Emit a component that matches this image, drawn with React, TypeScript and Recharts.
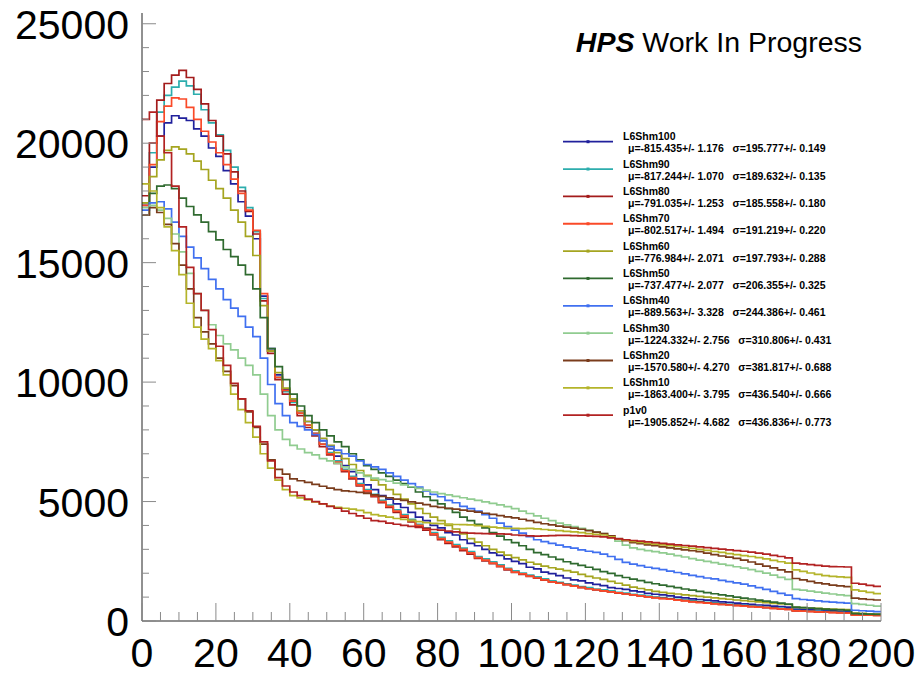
import React from 'react';
import { LineChart, Line, XAxis, YAxis } from 'recharts';

// ---------- data (bin low edges, width 2) ----------
const binWidth = 2;
const binLow: number[] = Array.from({ length: 100 }, (_, i) => i * binWidth);

const L6Shm100 = [
  17400, 19000, 20300, 20850, 21150, 21050, 20950, 20600, 20300, 19800,
  19450, 18850, 18300, 17550, 16950, 16000, 13600, 11400, 10300, 9700,
  9250, 8800, 8350, 8000, 7550, 7200, 6900, 6500, 6250, 5950,
  5700, 5500, 5250, 5100, 4900, 4750, 4550, 4350, 4200, 4000,
  3900, 3700, 3600, 3400, 3250, 3150, 3000, 2850, 2750, 2600,
  2500, 2400, 2250, 2180, 2050, 1980, 1900, 1800, 1720, 1680,
  1600, 1530, 1480, 1400, 1360, 1320, 1260, 1220, 1160, 1120,
  1090, 1050, 1000, 970, 930, 900, 870, 840, 800, 780,
  750, 720, 700, 670, 650, 620, 600, 580, 500, 490,
  470, 460, 440, 430, 410, 400, 310, 300, 290, 280,
];
const L6Shm90 = [
  17500, 19600, 21300, 22000, 22350, 22600, 22400, 22050, 21400, 20850,
  20350, 19700, 19000, 18150, 17300, 16300, 13500, 11300, 10200, 9600,
  9150, 8700, 8200, 7850, 7400, 7050, 6700, 6350, 6050, 5750,
  5500, 5300, 5050, 4850, 4650, 4450, 4250, 4050, 3900, 3700,
  3500, 3350, 3200, 3050, 2900, 2700, 2600, 2480, 2350, 2200,
  2100, 2000, 1920, 1850, 1760, 1680, 1620, 1560, 1500, 1440,
  1400, 1340, 1300, 1260, 1200, 1170, 1120, 1080, 1040, 1000,
  980, 940, 910, 870, 840, 810, 780, 760, 720, 700,
  670, 650, 620, 600, 570, 550, 530, 510, 440, 430,
  410, 400, 390, 370, 360, 350, 270, 260, 250, 240,
];
const L6Shm80 = [
  17800, 20000, 21800, 22500, 22850, 23050, 22750, 22250, 21650, 20950,
  20300, 19550, 18800, 18000, 17150, 16200, 13400, 11200, 10100, 9500,
  9050, 8600, 8100, 7750, 7300, 6950, 6600, 6250, 5950, 5650,
  5400, 5200, 4950, 4750, 4550, 4350, 4150, 3950, 3800, 3600,
  3400, 3250, 3100, 2950, 2800, 2620, 2520, 2400, 2280, 2140,
  2030, 1950, 1870, 1790, 1710, 1640, 1580, 1520, 1460, 1400,
  1350, 1300, 1260, 1220, 1170, 1130, 1090, 1050, 1010, 980,
  950, 920, 880, 850, 810, 790, 760, 730, 700, 680,
  650, 630, 600, 580, 560, 530, 510, 490, 420, 410,
  400, 380, 370, 360, 350, 340, 260, 250, 240, 230,
];
const L6Shm70 = [
  17400, 19100, 20900, 21550, 21900, 21850, 21500, 21000, 20500, 20050,
  19600, 19100, 18500, 17900, 17200, 16350, 13700, 11300, 10200, 9650,
  9200, 8700, 8200, 7850, 7400, 7000, 6650, 6300, 6000, 5700,
  5450, 5250, 5000, 4800, 4600, 4400, 4200, 4000, 3850, 3650,
  3450, 3300, 3150, 3000, 2850, 2650, 2550, 2420, 2300, 2170,
  2050, 1970, 1880, 1800, 1720, 1640, 1580, 1520, 1460, 1410,
  1350, 1310, 1260, 1220, 1180, 1130, 1090, 1050, 1010, 970,
  940, 910, 870, 840, 800, 770, 750, 720, 690, 670,
  640, 620, 600, 580, 560, 530, 510, 490, 420, 410,
  390, 380, 370, 350, 340, 330, 250, 240, 240, 230,
];
const L6Shm60 = [
  17500, 18600, 19300, 19700, 19850, 19750, 19550, 19250, 18900, 18450,
  18100, 17700, 17200, 16700, 16100, 15300, 13200, 11300, 10400, 9750,
  9300, 8800, 8350, 8000, 7650, 7350, 7050, 6800, 6550, 6300,
  6100, 5900, 5700, 5500, 5300, 5100, 4900, 4700, 4500, 4350,
  4200, 4000, 3850, 3650, 3450, 3300, 3150, 3000, 2880, 2760,
  2650, 2560, 2460, 2380, 2300, 2230, 2170, 2110, 2050, 1950,
  1870, 1800, 1740, 1660, 1580, 1500, 1420, 1360, 1300, 1240,
  1200, 1160, 1130, 1090, 1060, 1030, 1000, 970, 940, 910,
  880, 850, 820, 800, 770, 740, 720, 690, 570, 560,
  540, 530, 510, 500, 490, 480, 330, 320, 300, 290,
];
const L6Shm50 = [
  17000, 17900, 18200, 18250, 18100, 17700, 17350, 17000, 16700, 16300,
  15950, 15550, 15250, 14900, 14500, 13900, 12700, 11400, 10650, 10100,
  9500, 9000, 8600, 8300, 8000, 7750, 7500, 7300, 7000, 6750,
  6500, 6350, 6200, 6050, 5900, 5750, 5600, 5400, 5200, 5050,
  4900, 4700, 4550, 4350, 4200, 4050, 3900, 3700, 3550, 3400,
  3280, 3150, 3000, 2860, 2780, 2680, 2580, 2480, 2400, 2330,
  2250, 2160, 2070, 1990, 1900, 1820, 1750, 1690, 1620, 1560,
  1500, 1450, 1400, 1340, 1290, 1240, 1190, 1140, 1090, 1050,
  1000, 960, 920, 870, 830, 790, 750, 710, 580, 560,
  540, 520, 500, 480, 470, 450, 310, 300, 290, 280,
];
const L6Shm40 = [
  17200, 17500, 17550, 17250, 16700, 16100, 15650, 15200, 14750, 14300,
  13900, 13450, 13100, 12750, 12300, 11900, 11000, 9900, 9100, 8600,
  8300, 8150, 8000, 7800, 7550, 7300, 7150, 7000, 6900, 6700,
  6550, 6450, 6350, 6200, 6050, 5900, 5750, 5600, 5450, 5300,
  5200, 5050, 4950, 4800, 4700, 4600, 4450, 4300, 4100, 3950,
  3800, 3680, 3530, 3400, 3320, 3250, 3180, 3100, 3050, 2980,
  2920, 2870, 2800, 2700, 2580, 2450, 2380, 2320, 2250, 2200,
  2150, 2090, 2030, 1970, 1910, 1860, 1800, 1760, 1700, 1650,
  1600, 1540, 1470, 1400, 1320, 1240, 1160, 1080, 940, 900,
  870, 840, 810, 790, 770, 750, 450, 430, 410, 390,
];
const L6Shm30 = [
  17300, 17400, 17200, 16850, 16200, 15450, 14550, 13700, 13000, 12400,
  11950, 11600, 11350, 11000, 10700, 10300, 9500, 8600, 8000, 7600,
  7350, 7200, 7050, 6950, 6800, 6700, 6600, 6450, 6350, 6200,
  6050, 5980, 5920, 5850, 5770, 5700, 5620, 5550, 5480, 5400,
  5330, 5280, 5220, 5160, 5100, 5050, 4990, 4920, 4860, 4790,
  4700, 4600, 4500, 4400, 4300, 4200, 4100, 4020, 3950, 3880,
  3800, 3730, 3660, 3500, 3340, 3180, 3060, 3000, 2950, 2900,
  2850, 2800, 2740, 2680, 2610, 2550, 2500, 2440, 2380, 2330,
  2270, 2210, 2150, 2080, 2000, 1920, 1830, 1740, 1320, 1290,
  1250, 1210, 1170, 1130, 1090, 1060, 730, 700, 660, 620,
];
const L6Shm20 = [
  17000, 17300, 17100, 16600, 15800, 14900, 13900, 12700, 12100, 11600,
  11000, 10450, 9850, 9300, 8750, 8100, 7400, 6750, 6350, 6150,
  5950, 5870, 5800, 5720, 5640, 5560, 5500, 5450, 5420, 5380,
  5340, 5280, 5220, 5160, 5100, 5050, 4990, 4930, 4870, 4800,
  4760, 4720, 4680, 4640, 4600, 4560, 4510, 4460, 4410, 4360,
  4320, 4260, 4200, 4130, 4070, 4020, 3970, 3930, 3890, 3840,
  3780, 3720, 3660, 3560, 3450, 3360, 3280, 3240, 3190, 3150,
  3100, 3060, 3020, 2980, 2940, 2900, 2840, 2780, 2720, 2670,
  2620, 2550, 2470, 2380, 2300, 2220, 2140, 2060, 1780, 1720,
  1660, 1600, 1550, 1500, 1470, 1440, 960, 930, 900, 880,
];
const L6Shm10 = [
  18300, 18000, 17300, 16500, 15500, 14500, 13300, 12300, 11800, 11400,
  10900, 10300, 9500, 8850, 8300, 7700, 7000, 6400, 5900, 5500,
  5250, 5150, 5070, 4990, 4900, 4810, 4760, 4720, 4680, 4630,
  4540, 4450, 4400, 4350, 4290, 4250, 4200, 4160, 4120, 4090,
  4080, 4060, 4040, 4030, 4020, 3990, 3960, 3930, 3900, 3880,
  3880, 3870, 3880, 3860, 3830, 3800, 3780, 3750, 3730, 3700,
  3660, 3630, 3600, 3520, 3440, 3380, 3330, 3290, 3250, 3220,
  3190, 3150, 3120, 3080, 3040, 3000, 2960, 2910, 2870, 2820,
  2780, 2740, 2700, 2650, 2600, 2540, 2480, 2420, 2140, 2080,
  2010, 1950, 1900, 1870, 1850, 1830, 1300, 1250, 1200, 1150,
];
const p1v0 = [
  21000, 21300, 20300, 19600, 18200, 16500, 14800, 13700, 13000, 12200,
  11500, 10700, 9950, 9300, 8800, 8150, 7500, 6700, 6000, 5650,
  5400, 5250, 5100, 5000, 4900, 4800, 4720, 4600, 4500, 4400,
  4300, 4200, 4170, 4100, 4050, 4000, 3960, 3920, 3880, 3830,
  3800, 3760, 3730, 3700, 3680, 3670, 3660, 3650, 3650, 3640,
  3600, 3580, 3560, 3550, 3560, 3570, 3580, 3580, 3570, 3560,
  3550, 3540, 3520, 3480, 3440, 3400, 3370, 3340, 3310, 3280,
  3250, 3220, 3190, 3160, 3130, 3100, 3070, 3040, 3010, 2980,
  2950, 2920, 2880, 2840, 2800, 2750, 2700, 2640, 2420, 2390,
  2360, 2330, 2300, 2280, 2270, 2260, 1580, 1540, 1490, 1450,
];

const seriesNames = ['L6Shm100', 'L6Shm90', 'L6Shm80', 'L6Shm70', 'L6Shm60', 'L6Shm50', 'L6Shm40', 'L6Shm30', 'L6Shm20', 'L6Shm10', 'p1v0'];
const seriesValues = [L6Shm100, L6Shm90, L6Shm80, L6Shm70, L6Shm60, L6Shm50, L6Shm40, L6Shm30, L6Shm20, L6Shm10, p1v0];
const seriesColors = ['#20209c', '#2cadad', '#a31b1b', '#fa4a28', '#a5a520', '#2f6a2f', '#4070f0', '#90cc90', '#7a3c1c', '#b4b42a', '#b22222'];
const muText = ['-815.435+/- 1.176', '-817.244+/- 1.070', '-791.035+/- 1.253', '-802.517+/- 1.494', '-776.984+/- 2.071', '-737.477+/- 2.077', '-889.563+/- 3.328', '-1224.332+/- 2.756', '-1570.580+/- 4.270', '-1863.400+/- 3.795', '-1905.852+/- 4.682'];
const sigmaText = ['195.777+/- 0.149', '189.632+/- 0.135', '185.558+/- 0.180', '191.219+/- 0.220', '197.793+/- 0.288', '206.355+/- 0.325', '244.386+/- 0.461', '310.806+/- 0.431', '381.817+/- 0.688', '436.540+/- 0.666', '436.836+/- 0.773'];

const xTicks = Array.from({ length: 41 }, (_, i) => i * 5);
const yTicks = Array.from({ length: 26 }, (_, i) => i * 1000);
const xMax = 200;
const yMax = 25450;

// ---------- build table ----------
const rows: Record<string, number>[] = binLow.map((x, i) => {
  const r: Record<string, number> = { x };
  seriesNames.forEach((n, k) => { r[n] = seriesValues[k][i]; });
  return r;
});
{
  const last: Record<string, number> = { x: xMax };
  seriesNames.forEach((n, k) => { last[n] = seriesValues[k][seriesValues[k].length - 1]; });
  rows.push(last);
}

const FONT = '"Liberation Sans", Arial, Helvetica, sans-serif';

const XTick = (props: any) => {
  const { x, y, payload } = props;
  const v = payload.value as number;
  const major = v % 20 === 0;
  return (
    <g>
      <line x1={x} x2={x} y1={y} y2={y - (major ? 18 : 9)} stroke="#8a8a8a" strokeWidth={1} />
      {major && (
        <text x={x} y={y + 46} textAnchor="middle" fontSize={41} fontFamily={FONT} fill="#000">{v}</text>
      )}
    </g>
  );
};

const YTick = (props: any) => {
  const { x, y, payload } = props;
  const v = payload.value as number;
  const major = v % 5000 === 0;
  return (
    <g>
      <line x1={x} x2={x + (major ? 14 : 7)} y1={y} y2={y} stroke="#8a8a8a" strokeWidth={1} />
      {major && (
        <text x={x - 13} y={y + 15} textAnchor="end" fontSize={41} fontFamily={FONT} fill="#000">{v}</text>
      )}
    </g>
  );
};

const Overlay = () => (
  <svg width={916} height={675} style={{ position: 'absolute', left: 0, top: 0, pointerEvents: 'none' }}>
    <text x={862} y={52} textAnchor="end" fontSize={28.5} fontFamily={FONT} fill="#000">
      <tspan fontWeight="bold" fontStyle="italic">HPS</tspan>
      <tspan> Work In Progress</tspan>
    </text>
    {seriesNames.map((n, i) => {
      const ly = 141.7 + 27.35 * i;
      return (
        <g key={n}>
          <line x1={563} x2={613} y1={ly} y2={ly} stroke={seriesColors[i]} strokeWidth={1.8} />
          <rect x={586.5} y={ly - 1.5} width={3} height={3} fill={seriesColors[i]} />
          <text x={623} y={ly - 1.5} fontSize={10.5} fontWeight="bold" fontFamily={FONT} fill="#000">{n}</text>
          <text x={628} y={ly + 10.5} fontSize={10.5} fontWeight="bold" fontFamily={FONT} fill="#000" style={{ whiteSpace: 'pre' }}>
            {`\u03bc=${muText[i]}   \u03c3=${sigmaText[i]}`}
          </text>
        </g>
      );
    })}
  </svg>
);

export default function App() {
  return (
    <div style={{ position: 'absolute', left: 0, top: 0, width: 916, height: 675, background: '#fff' }}>
      <LineChart width={916} height={675} data={rows} margin={{ top: 13, right: 35, bottom: 0, left: 0 }} style={{ fontFamily: FONT }}>
        <XAxis dataKey="x" type="number" domain={[0, xMax]} ticks={xTicks} interval={0} height={54}
          tickSize={0} tickMargin={0} tick={<XTick />} tickLine={false} axisLine={{ stroke: '#222', strokeWidth: 1 }} allowDataOverflow />
        <XAxis xAxisId="top" orientation="top" dataKey="x" type="number" domain={[0, xMax]} height={0}
          tick={false} tickLine={false} axisLine={{ stroke: '#222', strokeWidth: 1 }} />
        <YAxis type="number" domain={[0, yMax]} ticks={yTicks} interval={0} width={142}
          tickSize={0} tickMargin={0} tick={<YTick />} tickLine={false} axisLine={{ stroke: '#222', strokeWidth: 1 }} allowDataOverflow />
        <YAxis yAxisId="right" orientation="right" type="number" domain={[0, yMax]} width={0}
          tick={false} tickLine={false} axisLine={{ stroke: '#222', strokeWidth: 1 }} />
        {seriesNames.map((n, i) => (
          <Line key={n} dataKey={n} type="stepAfter" stroke={seriesColors[i]} strokeWidth={1.7}
            dot={false} activeDot={false} isAnimationActive={false} />
        ))}
      </LineChart>
      <Overlay />
    </div>
  );
}
